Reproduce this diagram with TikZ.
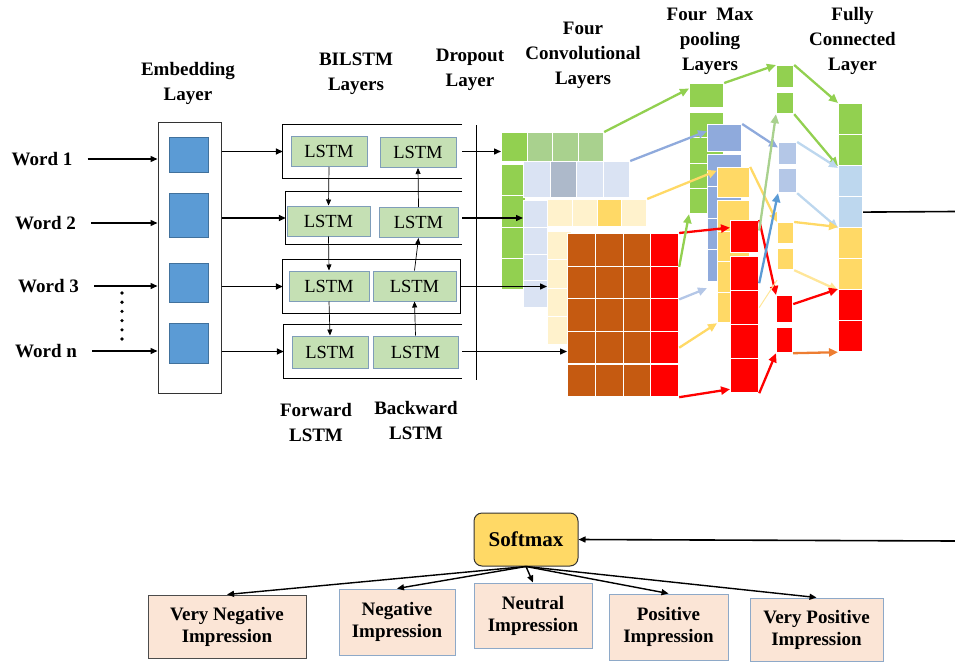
\documentclass[tikz,border=0pt]{standalone}
\usepackage{fontspec}
\setmainfont{Liberation Serif}
\usepackage{xcolor}
\usepackage{tikz}
\usetikzlibrary{arrows.meta}
\usetikzlibrary{calc}
\usetikzlibrary{positioning}
\definecolor{cnn-green}{HTML}{92D050}
\definecolor{cnn-lgreen}{HTML}{A9D18E}
\definecolor{cnn-lblue}{HTML}{DAE3F3}
\definecolor{cnn-gblue}{HTML}{ADB9CA}
\definecolor{cnn-mblue}{HTML}{8FAADC}
\definecolor{cnn-pblue}{HTML}{B4C7E7}
\definecolor{cnn-sblue}{HTML}{BDD7EE}
\definecolor{cnn-dblue}{HTML}{5B9BD5}
\definecolor{cnn-lyellow}{HTML}{FFF2CC}
\definecolor{cnn-yellow}{HTML}{FFD966}
\definecolor{cnn-fyellow}{HTML}{FFE699}
\definecolor{cnn-brown}{HTML}{C55A11}
\definecolor{cnn-red}{HTML}{FF0000}
\definecolor{cnn-orange}{HTML}{ED7D31}
\definecolor{lstm-fill}{HTML}{C5E0B4}
\definecolor{lstm-edge}{HTML}{7F9DB9}
\definecolor{emb-edge}{HTML}{41719C}
\definecolor{out-fill}{HTML}{FBE5D6}
\definecolor{out-edge}{HTML}{8EA9C8}
\tikzset{every text node part/.style={align=center}}

\begin{document}
\begin{tikzpicture}[x=1pt, y=-1pt,
        head/.style={font={\bfseries\fontsize{19}{25}\selectfont}, inner sep=0pt},
        word/.style={font={\bfseries\fontsize{19}{22}\selectfont}, inner sep=0pt},
        emb-block/.style={rectangle, draw=black!80, line width=1pt, minimum width=63, minimum height=271},
        emb-cell/.style={rectangle, draw=emb-edge, fill=cnn-dblue, line width=0.8pt, minimum width=39},
        row-block/.style={rectangle, minimum height=53, inner sep=0pt},
        lstm-block/.style={rectangle, draw=lstm-edge, fill=lstm-fill, line width=1pt, minimum height=30, inner sep=0pt, font={\fontsize{18.5}{20}\selectfont}},
        cell/.style={rectangle, draw=white, line width=1.2pt, inner sep=0pt, anchor=north west},
        ln/.style={-{Triangle[length=7pt, width=6pt]}, line width=1.4pt},
        thin-ln/.style={-{Triangle[length=6pt, width=5pt]}, line width=0.7pt},
        flow/.style={-{Triangle[length=9pt, width=8pt]}, line width=2.3pt},
        out-block/.style={rectangle, draw=out-edge, fill=out-fill, line width=1pt, inner sep=0pt, font={\bfseries\fontsize{19}{22}\selectfont}},
        soft-block/.style={rectangle, rounded corners=8pt, draw=black!80, fill=cnn-yellow, line width=1pt, font={\bfseries\fontsize{21}{24}\selectfont}}
      ]
      \useasboundingbox (0,0) rectangle (955,661);

      % headings
      \node[head]          (hemb)  at (188,83.5)    {Embedding\\Layer};
      \node[head]          (hbil)  at (356,73.5)    {BILSTM\\Layers};
      \node[head]          (hdrop) at (470,69.5)    {Dropout\\Layer};
      \node[head]          (hconv) at (583,55)      {Four\\Convolutional\\Layers};
      \node[head]          (hpool) at (710,41.5)    {Four~ Max\\pooling\\Layers};
      \node[head]          (hfc)   at (852.5,41)    {Fully\\Connected\\Layer};
      \node[head]          (hfwd)  at (316,422.5)   {Forward\\LSTM};
      \node[head]          (hbwd)  at (416,420.5)   {Backward\\LSTM};

      % input words and embedding
      \node[word]          (w1)    at (42,159)      {Word 1};
      \node[word]          (w2)    at (45.5,223)    {Word 2};
      \node[word]          (w3)    at (48.5,286)    {Word 3};
      \node[word]          (wn)    at (46,351)      {Word n};
      \draw[line width=3.6pt, line cap=round, dash pattern=on 0pt off 9.2pt] (122,293) -- (122,339.5);

      \node[emb-block]     (emb)   at (189.5,257.5) {};
      \node[emb-cell, minimum height=35] (e1) at (188.5,154.5) {};
      \node[emb-cell, minimum height=44] (e2) at (188.5,215)   {};
      \node[emb-cell, minimum height=39] (e3) at (188.5,282.5) {};
      \node[emb-cell, minimum height=40] (e4) at (188.5,343)   {};

      \foreach \w in {w1,w2,w3,wn}
        \draw[ln, shorten <=15pt] (\w.east) -- (\w.east -| emb.west);

      % bidirectional lstm rows
      \node[row-block, minimum width=179] (row1) at (372.5,151.5) {};
      \node[row-block, minimum width=176] (row2) at (374,218)     {};
      \node[row-block, minimum width=177] (row3) at (371.5,286.5) {};
      \node[row-block, minimum width=178] (row4) at (373,351.5)   {};
      \draw[line width=1pt] (row1.north east) -- (row1.north west) -- (row1.south west) -- (row1.south east);
      \draw[line width=1pt] (row2.north east) -- (row2.north west) -- (row2.south west) -- (row2.south east);
      \draw[line width=1pt] (row3.north west) rectangle (row3.south east);
      \draw[line width=1pt] (row4.north east) -- (row4.north west) -- (row4.south west) -- (row4.south east);

      \node[lstm-block, minimum width=76] (f1) at (329,151.5)   {LSTM};
      \node[lstm-block, minimum width=76] (b1) at (418,152.5)   {LSTM};
      \node[lstm-block, minimum width=83] (f2) at (328.5,221)   {LSTM};
      \node[lstm-block, minimum width=79] (b2) at (418.5,222.5) {LSTM};
      \node[lstm-block, minimum width=80] (f3) at (329,286)     {LSTM};
      \node[lstm-block, minimum width=83] (b3) at (414.5,286)   {LSTM};
      \node[lstm-block, minimum width=76, minimum height=32] (f4) at (330,352)   {LSTM};
      \node[lstm-block, minimum width=85, minimum height=32] (b4) at (415.5,352) {LSTM};

      \draw[ln] (emb.east |- row1) -- (row1.west);
      \draw[ln] (emb.east |- row2) -- (row2.west);
      \draw[ln] (emb.east |- row3) -- (row3.west);
      \draw[ln] (emb.east |- row4) -- (row4.west);
      \draw[thin-ln] (f1.south) -- (f2.north);
      \draw[thin-ln] (f2.south) -- (f3.north);
      \draw[thin-ln] (f3.south) -- (f4.north);
      \draw[thin-ln] (b2.north) -- (b1.south);
      \draw[thin-ln] (b3.north) -- (b2.south);
      \draw[thin-ln] (b4.north) -- (b3.south);

      % dropout
      \coordinate (drop-top) at (476,125);
      \coordinate (drop-bot) at (476,380);
      \draw[line width=1pt] (drop-top) -- (drop-bot);

      % convolution maps
      \foreach \i/\c in {0/cnn-green,1/cnn-lgreen,2/cnn-lgreen,3/cnn-lgreen}
        \node[cell, fill=\c, minimum width=25.5, minimum height=29] (gt\i) at ({501+25.5*\i},132) {};
      \foreach \j in {1,...,4}
        \node[cell, fill=cnn-green, minimum width=23.5, minimum height=31.25] (gc\j) at (501,{164+31.25*(\j-1)}) {};
      \foreach \i/\c in {0/cnn-lblue,1/cnn-gblue,2/cnn-lblue,3/cnn-lblue}
        \node[cell, fill=\c, minimum width=26.5, minimum height=36] (bt\i) at ({523+26.5*\i},161) {};
      \foreach \j in {1,...,4}
        \node[cell, fill=cnn-lblue, minimum width=24, minimum height=26.75] (bc\j) at (523,{200+26.75*(\j-1)}) {};
      \foreach \i/\c in {0/cnn-lyellow,1/cnn-lyellow,2/cnn-yellow,3/cnn-lyellow}
        \node[cell, fill=\c, minimum width=24.75, minimum height=27] (yt\i) at ({547+24.75*\i},199) {};
      \foreach \j in {1,...,4}
        \node[cell, fill=cnn-lyellow, minimum width=24, minimum height=28.25] (yc\j) at (547,{231+28.25*(\j-1)}) {};
      \foreach \j in {1,...,5} {
        \foreach \i in {1,2,3}
          \node[cell, fill=cnn-brown, minimum width=27.75, minimum height=32.6] (rc\j-\i) at ({567+27.75*(\i-1)},{233+32.6*(\j-1)}) {};
        \node[cell, fill=cnn-red, minimum width=27.75, minimum height=32.6] (rc\j-4) at (650.25,{233+32.6*(\j-1)}) {};
      }

      \draw[ln] (row1.east) -- (row1.east -| gt0.west);
      \draw[ln] (row2.east) -- (row2.east -| bc1.west);
      \draw[ln] (row3.east) -- (row3.east -| yc1.west);
      \draw[ln] (row4.east) -- (row4.east -| rc1-1.west);

      % first max pooling
      \node[cell, fill=cnn-green, minimum width=34, minimum height=24] (gp0) at (689,83) {};
      \foreach \j in {1,...,4}
        \node[cell, fill=cnn-green, minimum width=34, minimum height=25.25] (gp\j) at (689,{112+25.25*(\j-1)}) {};
      \node[cell, fill=cnn-mblue, minimum width=34, minimum height=27] (bp0) at (707,124) {};
      \foreach \j in {1,...,4}
        \node[cell, fill=cnn-mblue, minimum width=34, minimum height=31.75] (bp\j) at (707,{154+31.75*(\j-1)}) {};
      \node[cell, fill=cnn-yellow, minimum width=32, minimum height=30] (yp0) at (717,167) {};
      \foreach \j in {1,...,4}
        \node[cell, fill=cnn-yellow, minimum width=32, minimum height=30.5] (yp\j) at (717,{200+30.5*(\j-1)}) {};
      \node[cell, fill=cnn-red, minimum width=28, minimum height=32] (rp0) at (730,220) {};
      \foreach \j in {1,...,4}
        \node[cell, fill=cnn-red, minimum width=28, minimum height=34] (rp\j) at (730,{256+34*(\j-1)}) {};

      % second max pooling
      \node[cell, fill=cnn-green,  minimum width=17, minimum height=22] (gq1) at (776,65)  {};
      \node[cell, fill=cnn-green,  minimum width=17, minimum height=21] (gq2) at (776,92)  {};
      \node[cell, fill=cnn-pblue,  minimum width=18, minimum height=22] (bq1) at (778,142) {};
      \node[cell, fill=cnn-pblue,  minimum width=18, minimum height=24] (bq2) at (778,168) {};
      \node[cell, fill=cnn-yellow, minimum width=16, minimum height=21] (yq1) at (777,222) {};
      \node[cell, fill=cnn-yellow, minimum width=16, minimum height=21] (yq2) at (777,248) {};
      \node[cell, fill=cnn-red,    minimum width=16, minimum height=27] (rq1) at (776,295) {};
      \node[cell, fill=cnn-red,    minimum width=16, minimum height=25] (rq2) at (776,327) {};

      % fully connected
      \foreach \k/\c in {1/cnn-green,2/cnn-green,3/cnn-sblue,4/cnn-sblue,5/cnn-yellow,6/cnn-yellow,7/cnn-red,8/cnn-red}
        \node[cell, fill=\c, minimum width=24, minimum height=31] (fc\k) at (838,{103+31*(\k-1)}) {};

      % conv -> pool
      \draw[flow, cnn-green]  (gt3.north east)  -- ($(gp0.west)+(0,-7)$);
      \draw[flow, cnn-mblue]  (bt3.north east)  -- ($(bp0.west)+(0,-7)$);
      \draw[flow, cnn-yellow] (yt3.north east)  -- ($(yp0.west)+(0,-12)$);
      \draw[flow, cnn-red]    (rc1-4.north east) -- ($(rp0.west)+(0,-9)$);
      \draw[flow, cnn-green]  (rc1-4.south east) -- (gp4.south west);
      \draw[flow, cnn-pblue]  (rc2-4.south east) -- ($(bp4.south west)+(0,6)$);
      \draw[flow, cnn-yellow] (rc4-4.east)      -- (yp4.south west);
      \draw[flow, cnn-red]    (rc5-4.south east) -- ($(rp4.south west)+(0,-4)$);

      % pool -> pool
      \draw[flow, cnn-green]  (gp0.north east)  -- (gq1.north west);
      \draw[flow, cnn-mblue]  (bp0.north east)  -- ($(bq1.west)+(0,-6)$);
      \draw[flow, cnn-yellow] (yp0.north east)  -- (yq1.north west);
      \draw[flow, cnn-red]    (rp0.north east)  -- (rq1.north west);
      \draw[flow, cnn-lgreen] ($(rp0.east)+(0,-6)$) -- (gq2.south west);
      \draw[flow, cnn-dblue]  ($(rp1.south east)+(0,-8)$) -- (bq2.south west);
      \draw[cnn-fyellow, line width=1pt] (rp2.east) -- ($(yq2.south west)+(0,10)$);
      \draw[flow, cnn-red]    (rp4.south east)  -- (rq2.south west);

      % pool -> fully connected
      \draw[flow, cnn-green]   (gq1.north east) -- (fc1.north west);
      \draw[flow, cnn-green]   (gq2.south east) -- (fc2.south west);
      \draw[flow, cnn-sblue]   (bq1.north east) -- ($(fc3.north west)+(0,3)$);
      \draw[flow, cnn-sblue]   (bq2.south east) -- (fc4.south west);
      \draw[flow, cnn-yellow]  (yq1.north east) -- (fc5.north west);
      \draw[flow, cnn-fyellow] (yq2.south east) -- (fc6.south west);
      \draw[flow, cnn-red]     ($(rq1.east)+(0,-5)$) -- (fc7.north west);
      \draw[flow, cnn-orange]  (rq2.south east) -- (fc8.south west);

      % softmax and outputs
      \coordinate (fc-out) at (955,211.5);
      \coordinate (sm-in)  at (955,541);
      \node[soft-block, minimum width=104, minimum height=53] (sm) at (526,539.5) {Softmax};
      \node[out-block, draw=black!70, minimum width=158, minimum height=63] (o1) at (227,626.5) {Very Negative\\Impression};
      \node[out-block, minimum width=116, minimum height=66] (o2) at (397,622)   {Negative\\Impression};
      \node[out-block, minimum width=118, minimum height=65] (o3) at (533,615.5) {Neutral\\Impression};
      \node[out-block, minimum width=119, minimum height=66] (o4) at (668.5,627) {Positive\\Impression};
      \node[out-block, minimum width=133, minimum height=63] (o5) at (816.5,629.5) {Very Positive\\Impression};

      \draw[line width=1.6pt] (fc4.east) -- (fc-out);
      \draw[ln, line width=1.6pt] (sm-in) -- (sm.east);
      \foreach \o in {1,...,5}
        \draw[ln] (sm.south) -- (o\o.north);
    \end{tikzpicture}
\end{document}
